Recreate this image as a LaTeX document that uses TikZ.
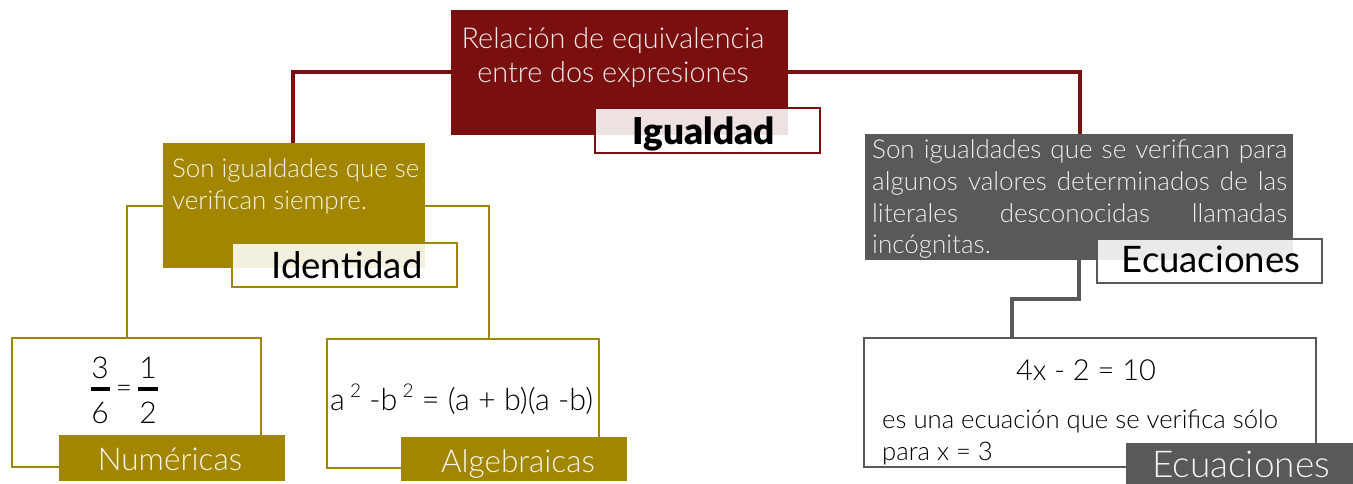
\documentclass[tikz,border=0pt]{standalone}
\usepackage{fontspec}
\setmainfont{Lato}[UprightFont=* Light, BoldFont=* Black]
\newfontfamily\lreg{Lato}
\definecolor{dred}{HTML}{7A0F0F}
\definecolor{olive}{HTML}{A38600}
\definecolor{dgray}{HTML}{595959}
\tikzset{
  x=1pt,y=-1pt,
  mainbox/.style={fill=dred,draw=none},
  olivebox/.style={fill=olive,draw=none},
  graybox/.style={fill=dgray,draw=none},
  lbl/.style={fill=white,fill opacity=0.88,text opacity=1,line width=2pt},
  txt/.style={inner sep=0pt,anchor=base},
  conn/.style={line width=3.5pt},
}
\begin{document}
\begin{tikzpicture}
\useasboundingbox (0,0) rectangle (1353,483);
\node[mainbox,minimum width=337pt,minimum height=125pt,anchor=north west,inner sep=0pt] (igbox) at (451,10) {};
\node[olivebox,minimum width=262pt,minimum height=125pt,anchor=north west,inner sep=0pt] (idbox) at (163,143) {};
\node[graybox,minimum width=428pt,minimum height=126pt,anchor=north west,inner sep=0pt] (ecbox) at (865,134) {};
\node[draw=olive,line width=2.2pt,minimum width=249pt,minimum height=129pt,anchor=north west,inner sep=0pt] (numbox) at (11,337) {};
\node[draw=olive,line width=2.2pt,minimum width=272pt,minimum height=129pt,anchor=north west,inner sep=0pt] (algbox) at (326,338) {};
\node[draw=dgray,line width=2.2pt,minimum width=452pt,minimum height=129pt,anchor=north west,inner sep=0pt] (eqbox) at (863,337) {};

\draw[dred,conn] (igbox.west |- 0,72) -| (idbox.north -| 293,0);
\draw[dred,conn] (igbox.east |- 0,72) -| (ecbox.north -| 1080,0);
\draw[olive,line width=2.5pt] (idbox.west |- 0,206) -| (numbox.north -| 127,0);
\draw[olive,line width=2.5pt] (idbox.east |- 0,206) -| (algbox.north -| 489,0);
\draw[dgray,conn] (ecbox.south -| 1079,0) |- (1012,299) -- (eqbox.north -| 1012,0);

% main box text
\node[txt,text=white!92!dred,font=\fontsize{28.8}{33}\selectfont] (t1) at (613,48) {Relación de equivalencia};
\node[txt,text=white!92!dred,font=\fontsize{28.8}{33}\selectfont] (t2) at (613,82) {entre dos expresiones};
\node[lbl,draw=dred,minimum width=225pt,minimum height=45pt,anchor=north west,inner sep=0pt] (iglbl) at (594,107) {};
\node[txt,font=\bfseries\fontsize{37}{40}\selectfont] (igt) at (704,144) {Igualdad};

% identidad
\node[txt,anchor=base west,text=white!90!olive,font=\fontsize{25.9}{30}\selectfont] (i1) at (172,177) {Son igualdades que se};
\node[txt,anchor=base west,text=white!90!olive,font=\fontsize{25.9}{30}\selectfont] (i2) at (172,209) {verifican siempre.};
\node[lbl,draw=olive,minimum width=225pt,minimum height=44pt,anchor=north west,inner sep=0pt] (idlbl) at (231,242) {};
\node[txt,font=\lreg\fontsize{36.5}{40}\selectfont] (idt) at (347,278) {Identidad};

% ecuaciones top
\begin{scope}[every node/.style={txt,anchor=base west,text=white!90!dgray,font=\fontsize{26}{30}\selectfont}]
\node (e1) at (872,158) {\makebox[415pt][s]{Son igualdades que se verifican para}};
\node (e2) at (872,190) {\makebox[415pt][s]{algunos valores determinados de las}};
\node (e3) at (872,222) {\makebox[415pt][s]{literales desconocidas llamadas}};
\node (e4) at (872,253) {incógnitas.};
\end{scope}
\node[lbl,draw=dgray,minimum width=225pt,minimum height=44pt,anchor=north west,inner sep=0pt] (eclbl) at (1096,238) {};
\node[txt,font=\lreg\fontsize{36.5}{40}\selectfont] (ect) at (1211,272) {Ecuaciones};

% numericas
\node[txt,font=\fontsize{30}{32}\selectfont] (n3) at (100,378) {3};
\node[txt,font=\fontsize{30}{32}\selectfont] (n6) at (100,423) {6};
\node[txt,font=\fontsize{30}{32}\selectfont] (n1) at (148,378) {1};
\node[txt,font=\fontsize{30}{32}\selectfont] (n2) at (148,423) {2};
\node[txt,font=\fontsize{28}{30}\selectfont] (neq) at (124,397) {=};
\draw[line width=3.5pt] (91,389) -- (110,389);
\draw[line width=3.5pt] (138,389) -- (158,389);
\node[fill=olive,minimum width=226pt,minimum height=46pt,anchor=north west,inner sep=0pt] (numlbl) at (59,435) {};
\node[txt,text=white!92!olive,font=\fontsize{31.5}{34}\selectfont] (numt) at (170,470) {Numéricas};

% algebraicas
\node[txt,anchor=base west,font=\fontsize{30.5}{34}\selectfont] (alg) at (330,410) {a\,\raisebox{13pt}{\fontsize{19}{22}\selectfont 2} -b\,\raisebox{13pt}{\fontsize{19}{22}\selectfont 2} = (a + b)(a -b)};
\node[fill=olive,minimum width=226pt,minimum height=44pt,anchor=north west,inner sep=0pt] (alglbl) at (401,437) {};
\node[txt,text=white!92!olive,font=\fontsize{31.5}{34}\selectfont] (algt) at (518,472) {Algebraicas};

% ecuacion ejemplo
\node[txt,font=\fontsize{29}{32}\selectfont] (eq) at (1086,380) {4x - 2 = 10};
\node[txt,anchor=base west,font=\fontsize{25.7}{30}\selectfont] (eqa) at (882,428) {es una ecuación que se verifica sólo};
\node[txt,anchor=base west,font=\fontsize{25.7}{30}\selectfont] (eqb) at (882,460) {para x = 3};
\node[fill=dgray,minimum width=227pt,minimum height=42pt,anchor=north west,inner sep=0pt] (eqlbl) at (1126,443) {};
\node[txt,text=white!92!dgray,font=\fontsize{37}{40}\selectfont] (eqt) at (1241,477) {Ecuaciones};
\end{tikzpicture}
\end{document}
